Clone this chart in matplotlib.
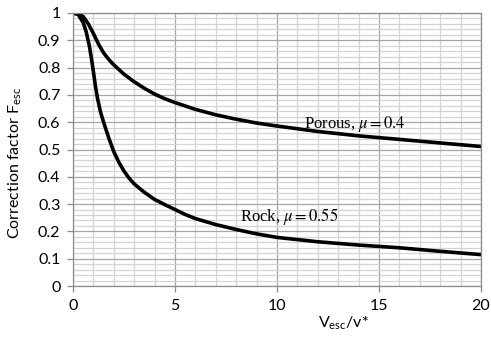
import matplotlib
matplotlib.use("Agg")
import matplotlib.pyplot as plt
from matplotlib.ticker import MultipleLocator

# curves
porous_x = [0, 0.25, 0.5, 0.75, 1.0, 1.25, 1.5, 1.75, 2, 2.5, 3, 3.5, 4, 4.5, 5, 6, 7, 8, 9, 10, 12, 14, 16, 18, 20]
porous_y = [1.0, 0.997, 0.987, 0.96, 0.925, 0.886, 0.854, 0.83, 0.81, 0.776, 0.748, 0.724, 0.703, 0.686, 0.672,
            0.647, 0.627, 0.611, 0.597, 0.586, 0.566, 0.55, 0.537, 0.524, 0.511]

rock_x = [0, 0.25, 0.5, 0.65, 0.8, 0.9, 1.0, 1.1, 1.2, 1.35, 1.5, 1.75, 2, 2.25, 2.5, 2.75, 3, 3.5, 4, 4.5,
          5, 5.5, 6, 7, 8, 9, 10, 12, 14, 16, 18, 20]
rock_y = [1.0, 0.995, 0.965, 0.93, 0.88, 0.835, 0.785, 0.732, 0.688, 0.637, 0.6, 0.543, 0.492, 0.453, 0.421,
          0.395, 0.374, 0.343, 0.317, 0.298, 0.28, 0.262, 0.247, 0.225, 0.207, 0.191, 0.178, 0.162, 0.15,
          0.14, 0.127, 0.115]

fig = plt.figure(figsize=(4.91, 3.38), dpi=100)
ax = fig.add_axes([73 / 491, 52 / 338, 408 / 491, 273 / 338])

ax.plot(porous_x, porous_y, color='black', lw=2.6, solid_joinstyle='round')
ax.plot(rock_x, rock_y, color='black', lw=2.6, solid_joinstyle='round')

ax.set_xlim(0, 20)
ax.set_ylim(0, 1)
ax.xaxis.set_major_locator(MultipleLocator(5))
ax.xaxis.set_minor_locator(MultipleLocator(1))
ax.yaxis.set_minor_locator(MultipleLocator(0.02))
ax.set_yticks([0, 0.1, 0.2, 0.3, 0.4, 0.5, 0.6, 0.7, 0.8, 0.9, 1.0])
ax.set_yticklabels(['0', '0.1', '0.2', '0.3', '0.4', '0.5', '0.6', '0.7', '0.8', '0.9', '1'])

ax.grid(which='major', color='#a6a6a6', lw=0.9)
ax.grid(which='minor', color='#d4d4d4', lw=0.9)
ax.set_axisbelow(True)
for s in ax.spines.values():
    s.set_color('#8c8c8c')
    s.set_linewidth(0.9)

ax.tick_params(which='major', direction='out', length=4, width=0.9, color='#8c8c8c',
               labelsize=11.5, pad=5)
ax.tick_params(which='minor', length=0)
for lab in ax.get_xticklabels() + ax.get_yticklabels():
    lab.set_family('Lato')

ax.set_xlabel(r'V$_{\mathregular{esc}}$/v*', fontsize=11.5, family='Lato')
ax.xaxis.set_label_coords(0.664, -0.105)
ax.set_ylabel(r'Correction factor F$_{\mathregular{esc}}$', fontsize=11.5, family='Lato')
ax.yaxis.set_label_coords(-0.12, 0.45)

ax.text(11.3, 0.595, r'Porous, $\mu = 0.4$', fontsize=12, family='Liberation Serif',
        va='center', ha='left', math_fontfamily='stix')
ax.text(8.2, 0.255, r'Rock, $\mu = 0.55$', fontsize=12, family='Liberation Serif',
        va='center', ha='left', math_fontfamily='stix')

fig.savefig('out.png', dpi=100)
